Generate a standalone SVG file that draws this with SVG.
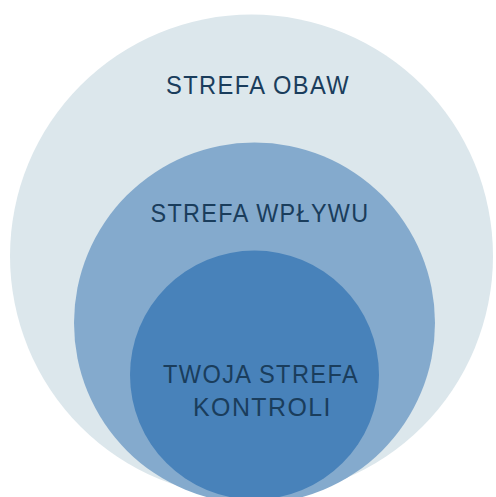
<svg xmlns="http://www.w3.org/2000/svg" width="496" height="497" viewBox="0 0 496 497">
<style>
.lbl{font-family:"Liberation Sans","DejaVu Sans",sans-serif;font-size:26px;fill:#1a3d5c;text-anchor:middle;letter-spacing:1.5px}
</style>
<rect width="496" height="497" fill="#ffffff"/>
<g id="strefa-obaw">
<circle cx="251.5" cy="256" r="241.5" fill="#dce7ec"/>
<text class="lbl" x="258" y="94" textLength="184" lengthAdjust="spacingAndGlyphs">STREFA OBAW</text>
</g>
<g id="strefa-wplywu">
<circle cx="254.5" cy="323" r="180.5" fill="#84aacd"/>
<text class="lbl" x="260" y="222" textLength="219" lengthAdjust="spacingAndGlyphs">STREFA WPŁYWU</text>
</g>
<g id="strefa-kontroli">
<circle cx="254.5" cy="375" r="124.5" fill="#4882ba"/>
<text class="lbl" x="261" y="383" textLength="196" lengthAdjust="spacingAndGlyphs">TWOJA STREFA</text>
<text class="lbl" x="262.5" y="416" textLength="139" lengthAdjust="spacingAndGlyphs">KONTROLI</text>
</g>
<g id="connectors"></g>
</svg>
